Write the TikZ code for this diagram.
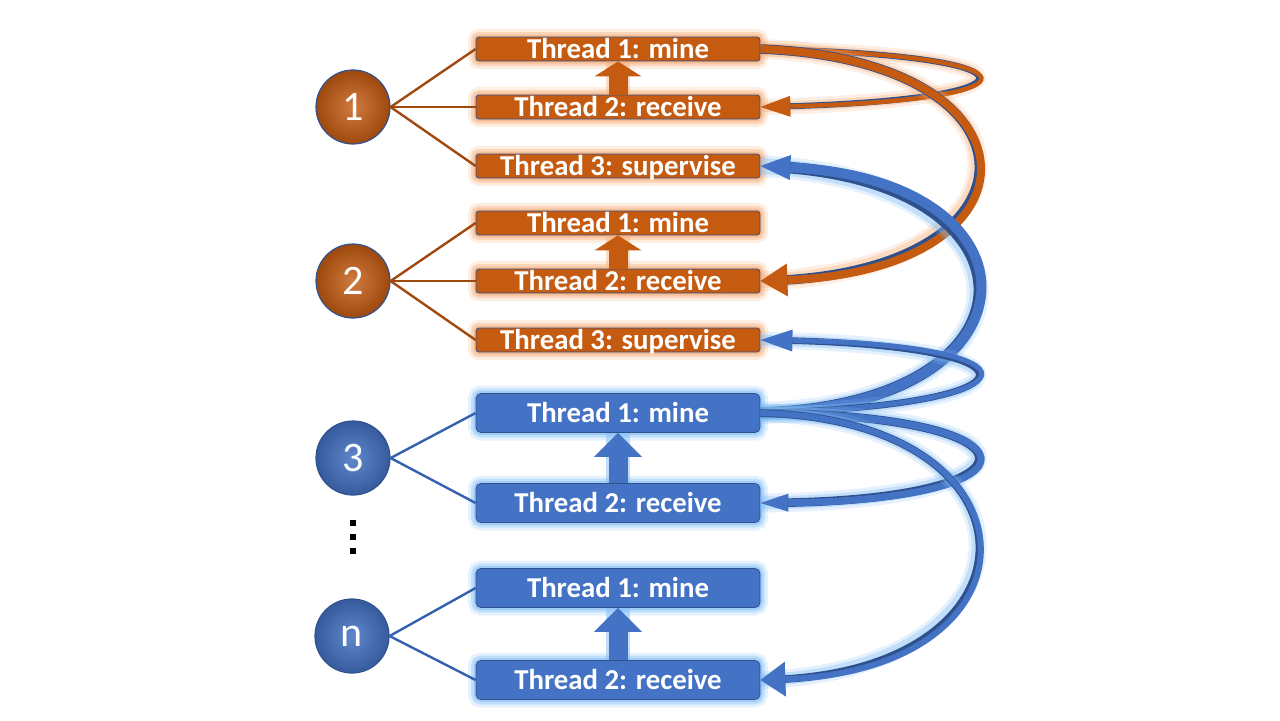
\documentclass[tikz,border=0pt]{standalone}
\usepackage{fontspec}
\setmainfont{Carlito}
\usetikzlibrary{arrows.meta}

\definecolor{orfill}{HTML}{C55A11}
\definecolor{orlink}{HTML}{A0480E}
\definecolor{orglow}{HTML}{F6A86E}
\definecolor{blfill}{HTML}{4472C4}
\definecolor{bllink}{HTML}{3560B0}
\definecolor{blglow}{HTML}{7DBCF5}
\definecolor{edgeblue}{HTML}{2F528F}

\tikzset{
    thread/.style={rectangle, draw=edgeblue, line width=0.4pt, minimum width=142pt,
        inner sep=0pt, text height=9pt, text depth=0pt, text=white,
        font=\bfseries\fontsize{14.4}{16}\selectfont},
    othread/.style={thread, fill=orfill, minimum height=12pt, rounded corners=1.5pt,
        preaction={draw=orglow, draw opacity=.2, line width=8pt},
        preaction={draw=orglow, draw opacity=.35, line width=5pt},
        preaction={draw=orglow, draw opacity=.5, line width=2.5pt}},
    bthread/.style={thread, fill=blfill, minimum height=19.5pt, rounded corners=2.5pt,
        preaction={draw=blglow, draw opacity=.2, line width=8pt},
        preaction={draw=blglow, draw opacity=.35, line width=5pt},
        preaction={draw=blglow, draw opacity=.5, line width=2.5pt}},
    peer/.style={circle, minimum size=37pt, inner sep=0pt, draw=edgeblue, line width=0.6pt,
        text=white, font=\fontsize{21}{24}\selectfont},
    opeer/.style={peer, inner color=orfill!80!white, outer color=orfill!80!black},
    bpeer/.style={peer, inner color=blfill!85!white, outer color=blfill!80!black},
    olink/.style={draw=orlink, line width=1.2pt},
    blink/.style={draw=bllink, line width=1.2pt},
    oup/.style={draw=orfill, line width=9.5pt, -{Triangle[length=7.5pt, width=23.5pt, line width=0pt]},
        preaction={draw=orglow, draw opacity=.4, line width=12pt, arrows=-}},
    bup/.style={draw=blfill, line width=9.5pt, -{Triangle[length=12pt, width=24pt, line width=0pt]},
        preaction={draw=blglow, draw opacity=.5, line width=12pt, arrows=-}},
    oribbon/.style={draw=orfill, line width=#1,
        preaction={draw=orglow, draw opacity=.18, line width=#1+6pt, arrows=-},
        preaction={draw=orglow, draw opacity=.3, line width=#1+3pt, arrows=-},
        preaction={draw=edgeblue, line width=#1+0.8pt, arrows=-, shorten >=7pt}},
    bribbon/.style={draw=blfill, line width=#1,
        preaction={draw=blglow, draw opacity=.2, line width=#1+6pt, arrows=-},
        preaction={draw=blglow, draw opacity=.35, line width=#1+3pt, arrows=-},
        preaction={draw=edgeblue, line width=#1+0.8pt, arrows=-, shorten >=7pt}}
}

\begin{document}
\begin{tikzpicture}[x=0.5pt, y=-0.5pt]
    \useasboundingbox (0,0) rectangle (1280,720);
    % peers
    \node[opeer] (c1) at (353,107) {1};
    \node[opeer] (c2) at (353,281) {2};
    \node[bpeer] (c3) at (353,458) {3};
    \node[bpeer] (cn) at (352,636) {n};
    % threads of each peer
    \node[othread] (o1m) at (618,49) {Thread 1: mine};
    \node[othread] (o1r) at (618,107) {Thread 2: receive};
    \node[othread] (o1s) at (618,166) {Thread 3: supervise};
    \node[othread] (o2m) at (618,223) {Thread 1: mine};
    \node[othread] (o2r) at (618,281) {Thread 2: receive};
    \node[othread] (o2s) at (618,340) {Thread 3: supervise};
    \node[bthread] (b3m) at (618,413) {Thread 1: mine};
    \node[bthread] (b3r) at (618,503) {Thread 2: receive};
    \node[bthread] (bnm) at (618,588) {Thread 1: mine};
    \node[bthread] (bnr) at (618,680) {Thread 2: receive};
    % links
    \foreach \t in {o1m,o1r,o1s} \draw[olink] (c1.east) -- (\t.west);
    \foreach \t in {o2m,o2r,o2s} \draw[olink] (c2.east) -- (\t.west);
    \foreach \t in {b3m,b3r} \draw[blink] (c3.east) -- (\t.west);
    \foreach \t in {bnm,bnr} \draw[blink] (cn.east) -- (\t.west);
    % dots
    \foreach \y in {523,537,551} \fill (353,\y) ++(-3,-3) rectangle ++(6,6);
    % receive -> mine
    \draw[oup] (o1r.north) -- (o1m.south);
    \draw[oup] (o2r.north) -- (o2m.south);
    \draw[bup] (b3r.north) -- (b3m.south);
    \draw[bup] (bnr.north) -- (bnm.south);
    % blocks sent around
    \draw[oribbon=2.2pt, -{Triangle[length=15pt, width=10.5pt, line width=0pt]}]
        (o1m.east) .. controls (1050,55) and (1050,100) .. (o1r.east);
    \draw[oribbon=4pt, -{Triangle[length=13.5pt, width=16.5pt, line width=0pt]}]
        (o1m.east) .. controls (1050,60) and (1050,270) .. (o2r.east);
    \draw[bribbon=5pt, -{Triangle[length=15pt, width=12.5pt, line width=0pt]}]
        (b3m.east) .. controls (1050,405) and (1050,180) .. (o1s.east);
    \draw[bribbon=2.5pt, -{Triangle[length=16pt, width=11pt, line width=0pt]}]
        (b3m.east) .. controls (1050,405) and (1050,345) .. (o2s.east);
    \draw[bribbon=3.5pt, -{Triangle[length=14pt, width=9pt, line width=0pt]}]
        (b3m.east) .. controls (1050,415) and (1050,500) .. (b3r.east);
    \draw[bribbon=3pt, -{Triangle[length=12.5pt, width=17.5pt, line width=0pt]}]
        (b3m.east) .. controls (1050,420) and (1050,670) .. (bnr.east);
\end{tikzpicture}
\end{document}
